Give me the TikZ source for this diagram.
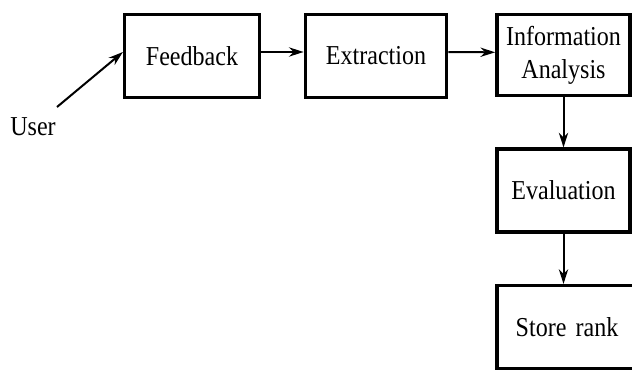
\documentclass[tikz,border=0pt]{standalone}
\usepackage{fontspec}
\setmainfont{Liberation Serif}[FakeStretch=0.88]
\usetikzlibrary{arrows.meta}

\begin{document}
\begin{tikzpicture}[x=0.75pt,y=-0.75pt,
  every node/.style={font=\fontsize{20.5}{25}\selectfont},
  stage/.style={draw,line width=2.6pt,minimum width=101pt,minimum height=62pt,inner sep=0pt,align=center},
  link/.style={line width=1.5pt,-{Stealth[length=11pt,width=7pt]}}]
  \useasboundingbox (0,0) rectangle (632,371);
  \clip (0,0) rectangle (632,371);
  \node (user) at (33,127) {User};
  \node[stage] (feedback) at (192,56) {Feedback};
  \node[stage,minimum width=106pt] (extraction) at (376,56) {Extraction};
  \node[stage,minimum width=100pt,minimum height=61pt] (info) at (563.5,55) {Information\\Analysis};
  \node[stage,minimum width=100pt] (eval) at (563.5,190.5) {Evaluation};
  \node[stage,minimum width=105pt,text width=100pt] (store) at (567,327) {Store rank};
  \coordinate (ustart) at (57,107);
  \draw[link] (ustart) -- ([yshift=3pt]feedback.west);
  \draw[link] ([yshift=3pt]feedback.east) -- ([yshift=3pt]extraction.west);
  \draw[link] ([yshift=3pt]extraction.east) -- ([yshift=2pt]info.west);
  \draw[link] (info) -- (eval);
  \draw[link] (eval.south) -- (eval.south |- store.north);
\end{tikzpicture}
\end{document}
